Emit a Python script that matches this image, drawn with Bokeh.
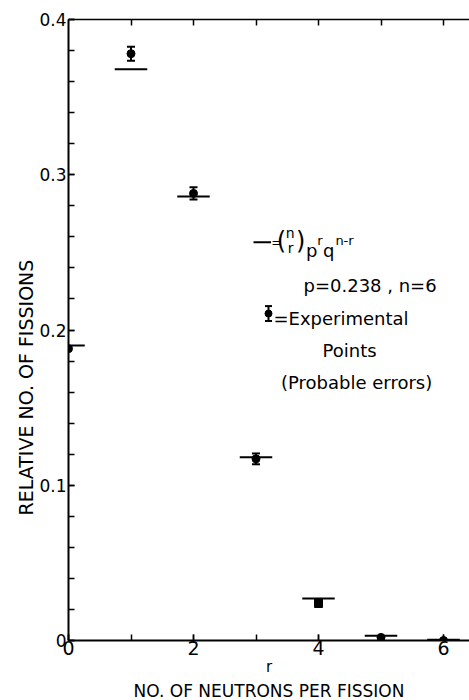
from bokeh.plotting import figure
from bokeh.models import (ColumnDataSource, Range1d, FixedTicker, LinearAxis, Whisker,
                          TeeHead, Label, Title, CustomJSTickFormatter)
from bokeh.embed import file_html
from bokeh.resources import INLINE

# ---- data ----
r_values = [0, 1, 2, 3, 4, 5, 6]
binomial = [0.190, 0.368, 0.286, 0.118, 0.027, 0.003, 0.0005]
experimental = [0.188, 0.378, 0.288, 0.117, 0.024, 0.002, 0.0]
probable_error = [0.0, 0.0045, 0.004, 0.0035, 0.0025, 0.0, 0.0]
markers = ["circle", "circle", "circle", "circle", "square", "circle", "circle"]
y_ticks = [0, 0.1, 0.2, 0.3, 0.4]
x_ticks = [0, 2, 4, 6]

FONT = "DejaVu Sans"
half = 0.26

p = figure(width=469, height=700, output_backend="svg", toolbar_location=None,
           x_range=Range1d(0, 6.416), y_range=Range1d(0, 0.4),
           min_border_left=68, min_border_right=0, min_border_top=19, min_border_bottom=60,
           background_fill_color="white", border_fill_color="white")
p.outline_line_color = None
p.grid.visible = False

# left axis
ya = p.yaxis[0]
ya.ticker = FixedTicker(ticks=y_ticks, minor_ticks=[i * 0.02 for i in range(21)])
ya.formatter = CustomJSTickFormatter(code="return tick == 0 ? '0' : tick.toFixed(1);")
ya.major_tick_in = 6
ya.major_tick_out = 0
ya.minor_tick_in = 6
ya.minor_tick_out = 0
ya.axis_line_width = 2
ya.major_tick_line_width = 1.5
ya.minor_tick_line_width = 1.5
ya.major_label_text_font = FONT
ya.major_label_text_font_size = "17px"
ya.major_label_text_color = "black"
ya.major_label_standoff = 2

# bottom axis
xa = p.xaxis[0]
xa.ticker = FixedTicker(ticks=x_ticks, minor_ticks=r_values)
xa.major_tick_in = 6
xa.major_tick_out = 0
xa.minor_tick_in = 6
xa.minor_tick_out = 0
xa.axis_line_width = 2
xa.major_tick_line_width = 1.5
xa.minor_tick_line_width = 1.5
xa.major_label_text_font = FONT
xa.major_label_text_font_size = "19px"
xa.major_label_text_color = "black"
xa.major_label_standoff = 0
xa.axis_label = "r"
xa.axis_label_text_font = FONT
xa.axis_label_text_font_size = "15px"
xa.axis_label_text_font_style = "normal"
xa.axis_label_text_color = "black"
xa.axis_label_standoff = 0

p.add_layout(Title(text="NO. OF NEUTRONS PER FISSION", align="center", text_font=FONT,
                   text_font_size="17px", text_font_style="normal", text_color="black",
                   standoff=0), "below")
p.add_layout(Title(text="RELATIVE NO. OF FISSIONS", align="left", offset=125, text_font=FONT,
                   text_font_size="19px", text_font_style="normal", text_color="black",
                   standoff=0), "left")

# top axis (ticks only)
top = LinearAxis(ticker=FixedTicker(ticks=r_values[1:]), major_tick_in=6, major_tick_out=0,
                 minor_tick_in=0, minor_tick_out=0, axis_line_width=1.5,
                 major_tick_line_width=1.5, major_label_standoff=0,
                 formatter=CustomJSTickFormatter(code="return '';"))
p.add_layout(top, "above")

# theoretical binomial values as short horizontal bars
src_t = ColumnDataSource(dict(x0=[r - half for r in r_values], x1=[r + half for r in r_values],
                              y=binomial))
p.segment(x0="x0", x1="x1", y0="y", y1="y", source=src_t, line_color="black", line_width=2)

# experimental points with probable errors
src_e = ColumnDataSource(dict(x=r_values, y=experimental, m=markers))
p.scatter(x="x", y="y", marker="m", source=src_e, size=8, color="black")
ex = [r for r, e in zip(r_values, probable_error) if e > 0]
lo = [v - e for v, e in zip(experimental, probable_error) if e > 0]
hi = [v + e for v, e in zip(experimental, probable_error) if e > 0]
src_w = ColumnDataSource(dict(x=ex, lo=lo, hi=hi))
p.add_layout(Whisker(source=src_w, base="x", lower="lo", upper="hi", line_width=2,
                     upper_head=TeeHead(size=8, line_width=2),
                     lower_head=TeeHead(size=8, line_width=2)))

# ---- legend/annotation text ----
def lab(x, y, text, size, align="left", baseline="alphabetic"):
    p.add_layout(Label(x=x, y=y, text=text, text_font=FONT, text_font_size=size,
                       text_align=align, text_baseline=baseline, text_color="black"))

# legend line key
p.segment(x0=[2.96], x1=[3.24], y0=[0.2565], y1=[0.2565], line_color="black", line_width=2)
lab(3.245, 0.2565, "=", "13px", baseline="middle")
lab(3.33, 0.2575, "(", "24px", baseline="middle")
lab(3.545, 0.2625, "n", "14px", align="center", baseline="middle")
lab(3.555, 0.2528, "r", "14px", align="center", baseline="middle")
lab(3.64, 0.2575, ")", "24px", baseline="middle")
lab(3.80, 0.2512, "p", "18px")
lab(3.98, 0.2577, "r", "13px")
lab(4.07, 0.2512, "q", "18px")
lab(4.27, 0.2577, "n-r", "13px")
lab(3.76, 0.2287, "p=0.238 , n=6", "18px")

# legend experimental key
p.scatter(x=[3.2], y=[0.2106], size=7, color="black")
p.add_layout(Whisker(source=ColumnDataSource(dict(x=[3.2], lo=[0.2058], hi=[0.2154])),
                     base="x", lower="lo", upper="hi", line_width=2,
                     upper_head=TeeHead(size=7, line_width=2),
                     lower_head=TeeHead(size=7, line_width=2)))
lab(3.28, 0.2074, "=Experimental", "18px")
lab(4.064, 0.1868, "Points", "18px")
lab(3.40, 0.1662, "(Probable errors)", "18px")

open("out.html", "w").write(file_html(p, INLINE))
